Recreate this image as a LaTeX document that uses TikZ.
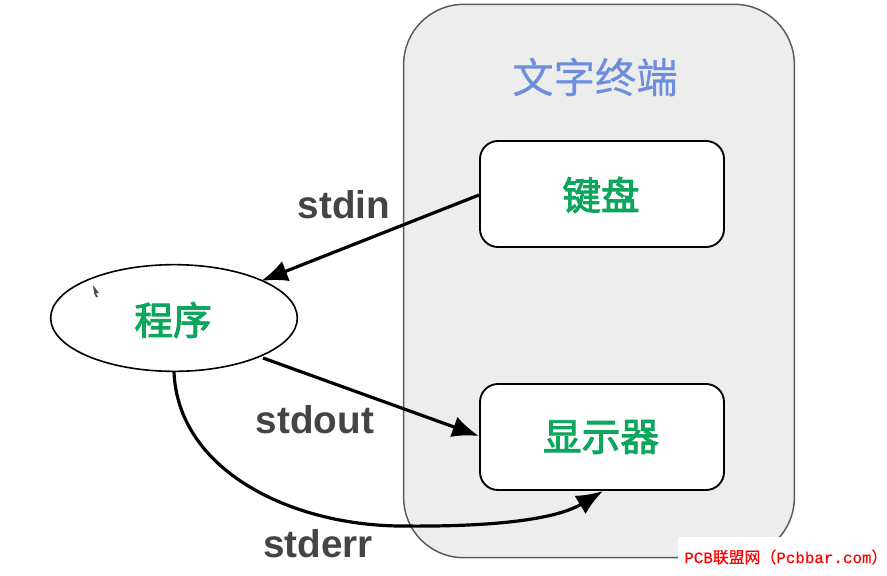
\documentclass[tikz,border=0pt]{standalone}
\usepackage{fontspec}
\setmainfont{Liberation Sans}
\newfontfamily\cjk{Noto Sans CJK SC}
\newfontfamily\cjkmed{Noto Sans CJK SC}[FakeBold=2.5]
\newfontfamily\cjkwm{Noto Sans CJK SC}[FakeBold=0.5]
\newfontfamily\wmmono{Liberation Mono}[FakeBold=0.4]
\usetikzlibrary{arrows.meta,shapes.geometric}
\definecolor{termfill}{HTML}{EDEDED}
\definecolor{termline}{HTML}{5A5A5A}
\definecolor{titleblue}{HTML}{6C8EDB}
\definecolor{greentext}{HTML}{0DA65C}
\definecolor{labelgray}{HTML}{444444}
\tikzset{
 x=0.75pt,y=-0.75pt,
 device/.style={draw=black,line width=1.4pt,fill=white,rounded corners=13.5pt,minimum width=183pt,minimum height=79.5pt,inner sep=0pt},
 greenlabel/.style={text=greentext,font=\cjkmed\fontsize{29}{32}\selectfont,inner sep=0pt},
 streamlabel/.style={text=labelgray,font=\bfseries\fontsize{29}{32}\selectfont,inner sep=0pt},
 conn/.style={draw=black,line width=2.4pt,-{Latex[length=20pt,width=16pt]}}
}
\begin{document}
\begin{tikzpicture}
\useasboundingbox (0,0) rectangle (887,575);
\fill[white] (0,0) rectangle (887,575);
\node[draw=termline,line width=1.1pt,fill=termfill,rounded corners=45pt,minimum width=293pt,minimum height=415pt,inner sep=0pt] (term) at (599,281) {};
\node[text=titleblue,font=\cjkwm\fontsize{31}{34}\selectfont,inner sep=0pt] (title) at (595,77) {文字终端};
\node[device] (kbd) at (602,194) {};
\node[greenlabel] at (601,195) {键盘};
\node[device] (mon) at (602,437) {};
\node[greenlabel] at (601,437) {显示器};
\node[draw=black,line width=1.2pt,fill=white,ellipse,minimum width=185pt,minimum height=80pt,inner sep=0pt] (prog) at (174,318) {};
\node[greenlabel] (progt) at (173,320) {程序};
\fill[black!70] (93,285) -- (99,293) -- (96,293) -- (98,297) -- (96,297) -- (94,293) -- cycle;
\node[streamlabel] (in) at (344,205) {stdin};
\node[streamlabel] (out) at (315,420) {stdout};
\node[streamlabel] (err) at (318,544) {stderr};
\coordinate (pin) at (261,281);
\coordinate (mout) at (479,436);
\coordinate (pout) at (263,358);
\coordinate (kout) at (479,195);
\coordinate (perr) at (174,372);
\coordinate (merr) at (603,491);
\draw[conn] (kout) -- (pin);
\draw[conn] (pout) -- (mout);
\draw[conn] (perr) .. controls (178,470) and (290,525) .. (400,526) .. controls (490,527) and (555,520) .. (merr);
\fill[white] (678,537) rectangle (887,575);
\node[text=red,inner sep=0pt,anchor=west] (wm) at (684,557) {\fontsize{11.9}{14}\selectfont\wmmono PCB\cjkwm 联盟网（\wmmono Pcbbar.com\cjkwm ）};
\end{tikzpicture}
\end{document}
